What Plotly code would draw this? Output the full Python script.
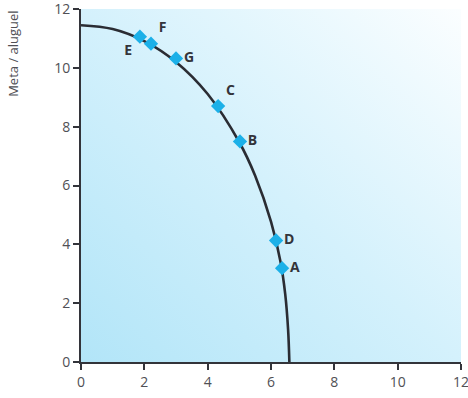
import plotly.graph_objects as go
import urllib.parse

# Frontier curve points
curve_x = [0, 1, 2, 3, 4, 5, 5.5, 6, 6.3, 6.45, 6.54, 6.58]
curve_y = [11.45, 11.32, 10.91, 10.2, 9.11, 7.47, 6.33, 4.77, 3.41, 2.3, 1.1, 0]

# Labelled points
point_labels = ["E", "F", "G", "C", "B", "D", "A"]
point_x = [1.86, 2.21, 3.0, 4.33, 5.02, 6.16, 6.35]
point_y = [11.06, 10.82, 10.32, 8.70, 7.50, 4.13, 3.19]

x_ticks = [0, 2, 4, 6, 8, 10, 12]
y_ticks = [0, 2, 4, 6, 8, 10, 12]

label_pos = ["bottom left", "top right", "middle right", "top right",
             "middle right", "middle right", "middle right"]

svg = (
    '<svg xmlns="http://www.w3.org/2000/svg" width="380" height="357" preserveAspectRatio="none">'
    '<defs><linearGradient id="g" x1="0" y1="1" x2="1" y2="0">'
    '<stop offset="0" stop-color="#b2e5f8"/>'
    '<stop offset="0.5" stop-color="#d4f1fc"/>'
    '<stop offset="1" stop-color="#fbfeff"/>'
    '</linearGradient></defs>'
    '<rect width="380" height="357" fill="url(#g)"/></svg>'
)
src = "data:image/svg+xml;charset=utf-8," + urllib.parse.quote(svg)

fig = go.Figure()
fig.add_trace(go.Scatter(
    x=curve_x, y=curve_y, mode="lines",
    line=dict(color="#2a2c33", width=2.6, shape="spline", smoothing=1.0),
    hoverinfo="skip", showlegend=False,
))
fig.add_trace(go.Scatter(
    x=point_x, y=point_y, mode="markers+text",
    marker=dict(symbol="diamond", size=11, color="#1cb0e8"),
    text=point_labels, textposition=label_pos,
    textfont=dict(family="Open Sans", size=14, color="#33343a", weight="bold"),
    showlegend=False,
))

axis_common = dict(
    range=[0, 12], showgrid=False, zeroline=False,
    showline=True, linecolor="#33343a", linewidth=2,
    ticks="outside", ticklen=6, tickwidth=2, tickcolor="#33343a",
    tickfont=dict(family="Open Sans", size=14, color="#505055"),
    ticklabeloverflow="allow", automargin=False,
    fixedrange=True,
)
fig.update_xaxes(tickvals=x_ticks, **axis_common)
fig.update_yaxes(tickvals=y_ticks, **axis_common)

fig.add_annotation(
    text="Meta / aluguel", xref="paper", yref="paper", x=-0.178, y=0.874,
    textangle=-90, showarrow=False, xanchor="center", yanchor="middle",
    font=dict(family="Open Sans", size=13, color="#505055"),
)

fig.add_layout_image(
    source=src, xref="paper", yref="paper", x=0, y=1, sizex=1, sizey=1,
    xanchor="left", yanchor="top", sizing="stretch", layer="below",
)

fig.update_layout(
    width=468, height=398,
    margin=dict(l=81, r=7, t=9, b=36, autoexpand=False),
    paper_bgcolor="white", plot_bgcolor="rgba(0,0,0,0)",
)

fig.write_html("out.html")
